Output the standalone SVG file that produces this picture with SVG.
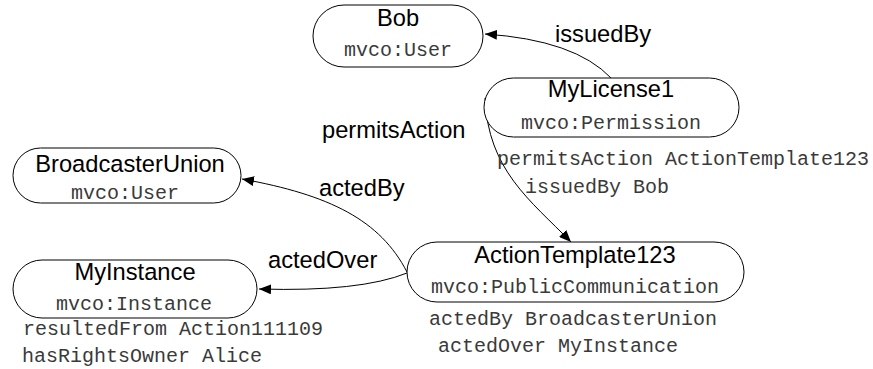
<svg xmlns="http://www.w3.org/2000/svg" width="873" height="369" viewBox="0 0 873 369">
  <style>
    .node { fill: #ffffff; stroke: #000000; stroke-width: 1; }
    .title { font-family: "Liberation Sans", Arial, sans-serif; font-size: 23.7px; fill: #000000; text-anchor: middle; }
    .type { font-family: "Liberation Mono", "Courier New", monospace; font-size: 20px; fill: #3a3a3a; text-anchor: middle; }
    .note { font-family: "Liberation Mono", "Courier New", monospace; font-size: 20px; fill: #3a3a3a; }
    .label { font-family: "Liberation Sans", Arial, sans-serif; font-size: 23.7px; fill: #000000; }
    .edge { fill: none; stroke: #000000; stroke-width: 1; marker-end: url(#arrow); }
  </style>
  <defs>
    <marker id="arrow" markerWidth="12" markerHeight="10" refX="12" refY="5" orient="auto" markerUnits="userSpaceOnUse">
      <path d="M0,0 L12,5 L0,10 Z" fill="#000000"/>
    </marker>
  </defs>
  <rect width="873" height="369" fill="#ffffff"/>

  <g id="connectors">
    <path class="edge" d="M611,78 Q575,40 485,34"/>
    <path class="edge" d="M485,98 C488,170 530,200 571,242"/>
    <path class="edge" d="M407,272 C380,220 330,195 242,179"/>
    <path class="edge" d="M407,273 Q360,292 259,289"/>
    <text class="label" x="555" y="42">issuedBy</text>
    <text class="label" x="322" y="138">permitsAction</text>
    <text class="label" x="319" y="196">actedBy</text>
    <text class="label" x="268" y="268">actedOver</text>
  </g>

  <g id="bob">
    <rect class="node" x="313" y="5" width="170" height="62" rx="31"/>
    <text class="title" x="398" y="26">Bob</text>
    <text class="type" x="398" y="56">mvco:User</text>
  </g>

  <g id="mylicense1">
    <rect class="node" x="484" y="78" width="255" height="59" rx="29.5"/>
    <text class="title" x="611" y="97">MyLicense1</text>
    <text class="type" x="611" y="129">mvco:Permission</text>
    <text class="note" x="497" y="165">permitsAction ActionTemplate123</text>
    <text class="note" x="525" y="193">issuedBy Bob</text>
  </g>

  <g id="broadcasterunion">
    <rect class="node" x="13" y="148" width="228" height="55" rx="27.5"/>
    <text class="title" x="130" y="172">BroadcasterUnion</text>
    <text class="type" x="125" y="199">mvco:User</text>
  </g>

  <g id="myinstance">
    <rect class="node" x="13" y="260" width="244" height="58" rx="29"/>
    <text class="title" x="135" y="280">MyInstance</text>
    <text class="type" x="134" y="310">mvco:Instance</text>
    <text class="note" x="23" y="335">resultedFrom Action111109</text>
    <text class="note" x="22" y="362">hasRightsOwner Alice</text>
  </g>

  <g id="actiontemplate123">
    <rect class="node" x="407" y="242" width="337" height="60" rx="30"/>
    <text class="title" x="575" y="263">ActionTemplate123</text>
    <text class="type" x="575" y="293">mvco:PublicCommunication</text>
    <text class="note" x="429" y="325">actedBy BroadcasterUnion</text>
    <text class="note" x="438" y="352">actedOver MyInstance</text>
  </g>
</svg>
